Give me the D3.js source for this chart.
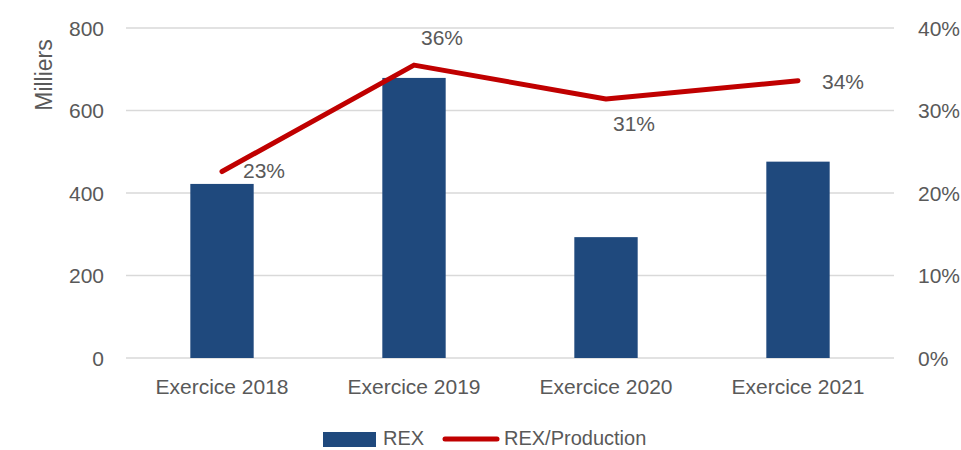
<!DOCTYPE html>
<html>
<head>
<meta charset="utf-8">
<script src="https://cdn.jsdelivr.net/npm/d3@7"></script>
<style>
  html, body { margin: 0; padding: 0; background: #fff; }
  svg text { font-family: "Liberation Sans", "DejaVu Sans", sans-serif; fill: #595959; }
</style>
</head>
<body>
<svg id="chart" width="961" height="450"></svg>
<script>
const categories = ["Exercice 2018", "Exercice 2019", "Exercice 2020", "Exercice 2021"];
const rexValues = [422, 679, 293, 476];
const ratioValues = [0.226, 0.355, 0.314, 0.336];
const ratioLabels = ["23%", "36%", "31%", "34%"];
const leftTicks = [0, 200, 400, 600, 800];
const rightTicks = [0, 0.1, 0.2, 0.3, 0.4];
const seriesNames = ["REX", "REX/Production"];
const yTitle = "Milliers";

const svg = d3.select("#chart");
const margin = { left: 126, right: 67, top: 28, bottom: 92 };
const W = 961, H = 450;
const x = d3.scaleBand().domain(categories).range([margin.left, W - margin.right]).paddingInner(0.67).paddingOuter(0.335);
const yL = d3.scaleLinear().domain([0, 800]).range([H - margin.bottom, margin.top]);
const yR = d3.scaleLinear().domain([0, 0.4]).range([H - margin.bottom, margin.top]);

// gridlines
svg.append("g").selectAll("line").data(leftTicks).join("line")
  .attr("x1", margin.left).attr("x2", W - margin.right)
  .attr("y1", d => yL(d)).attr("y2", d => yL(d))
  .attr("stroke", "#D9D9D9").attr("stroke-width", 1.5);

// left axis
const axL = svg.append("g").attr("transform", `translate(${margin.left},0)`)
  .call(d3.axisLeft(yL).tickValues(leftTicks).tickSize(0).tickPadding(22));
axL.select(".domain").remove();
axL.selectAll("text").style("font-size", "21px").attr("fill", "#595959").attr("dy", "0.35em");

// right axis
const axR = svg.append("g").attr("transform", `translate(${W - margin.right},0)`)
  .call(d3.axisRight(yR).tickValues(rightTicks).tickFormat(d3.format(".0%")).tickSize(0).tickPadding(24));
axR.select(".domain").remove();
axR.selectAll("text").style("font-size", "21px").attr("fill", "#595959").attr("dy", "0.35em");

// x axis labels
const axB = svg.append("g").attr("transform", `translate(0,${H - margin.bottom})`)
  .call(d3.axisBottom(x).tickSize(0).tickPadding(21));
axB.select(".domain").remove();
axB.selectAll("text").style("font-size", "21px").attr("fill", "#595959");

// y title
svg.append("text").attr("transform", `translate(52,75) rotate(-90)`)
  .attr("text-anchor", "middle").style("font-size", "23px").text(yTitle);

// bars
svg.append("g").selectAll("rect").data(categories).join("rect")
  .attr("x", d => x(d)).attr("width", x.bandwidth())
  .attr("y", (d, i) => yL(rexValues[i]))
  .attr("height", (d, i) => yL(0) - yL(rexValues[i]))
  .attr("fill", "#1F497D");

// line
const line = d3.line().x((d, i) => x(categories[i]) + x.bandwidth() / 2).y(d => yR(d));
svg.append("path").datum(ratioValues).attr("d", line)
  .attr("fill", "none").attr("stroke", "#C00000").attr("stroke-width", 5)
  .attr("stroke-linecap", "round").attr("stroke-linejoin", "round");

// data labels
const offsets = [[42, -1], [28, -27], [28, 25], [45, 1]];
svg.append("g").selectAll("text").data(ratioValues).join("text")
  .attr("x", (d, i) => x(categories[i]) + x.bandwidth() / 2 + offsets[i][0])
  .attr("y", (d, i) => yR(d) + offsets[i][1])
  .attr("dy", "0.35em").attr("text-anchor", "middle")
  .style("font-size", "21px").text((d, i) => ratioLabels[i]);

// legend
const lg = svg.append("g");
lg.append("rect").attr("x", 323).attr("y", 432).attr("width", 53).attr("height", 15).attr("fill", "#1F497D");
lg.append("text").attr("x", 383).attr("y", 438).attr("dy", "0.35em").style("font-size", "20px").text(seriesNames[0]);
lg.append("line").attr("x1", 445).attr("x2", 497).attr("y1", 439).attr("y2", 439)
  .attr("stroke", "#C00000").attr("stroke-width", 5).attr("stroke-linecap", "round");
lg.append("text").attr("x", 504).attr("y", 438).attr("dy", "0.35em").style("font-size", "20px").text(seriesNames[1]);
</script>
</body>
</html>
